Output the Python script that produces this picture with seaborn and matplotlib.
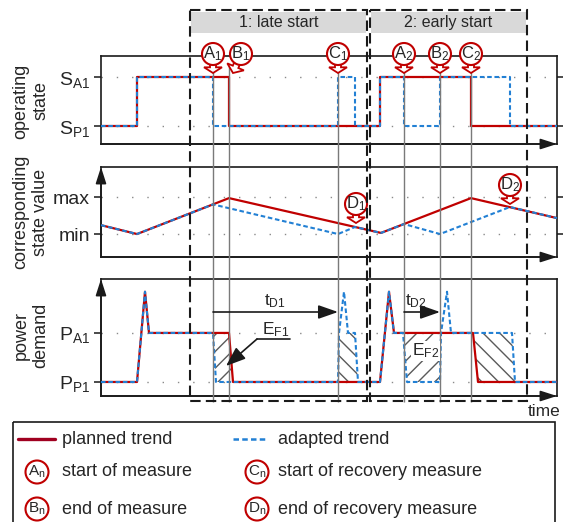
import numpy as np
import pandas as pd
import seaborn as sns
import matplotlib.pyplot as plt
import matplotlib.patches as mpatches
import matplotlib.transforms as mtransforms

sns.set_theme(style='white')
plt.rcParams['font.family'] = ['Liberation Sans', 'DejaVu Sans']
plt.rcParams['mathtext.default'] = 'regular'
plt.rcParams['hatch.linewidth'] = 1.0

RED = '#c00000'
BLUE = '#2280d4'
DASH = (0, (2.2, 1.3))

# time axis in arbitrary units
t_end = 456
event_names = ['A_1', 'B_1', 'C_1', 'A_2', 'B_2', 'C_2']
event_times = [112, 128, 237, 303, 339, 370]
recovery_end_names = ['D_1', 'D_2']
recovery_end_times = [255, 409]
scenario_names = ['1: late start', '2: early start']
scenario_spans = [(89, 266), (269, 426)]

# operating state (0 = S_P1, 1 = S_A1)
state_planned_t = [0, 36, 36, 128, 128, 279, 279, 370, 370, 456]
state_planned = [0, 0, 1, 1, 0, 0, 1, 1, 0, 0]
state_adapted_t = [0, 36, 36, 112, 112, 237, 237, 254, 254, 279, 279, 303, 303, 339, 339, 409, 409, 456]
state_adapted = [0, 0, 1, 1, 0, 0, 1, 1, 0, 0, 1, 1, 0, 0, 1, 1, 0, 0]

# corresponding state value (0 = min, 1 = max)
value_planned_t = [0, 36, 128, 280, 370, 456]
value_planned = [0.24, 0.0, 0.97, 0.03, 0.97, 0.43]
value_adapted_t = [0, 36, 112, 237, 254, 280, 303, 339, 409, 456]
value_adapted = [0.24, 0.0, 0.80, 0.0, 0.19, 0.03, 0.27, 0.0, 0.73, 0.43]

# power demand (0 = P_P1, 1 = P_A1)
power_planned_t = [0, 36, 44, 48, 128, 132, 279, 288, 293, 372, 377, 456]
power_planned = [0, 0, 1.84, 1, 1, 0, 0, 1.84, 1, 1, 0, 0]
power_adapted_t = [0, 36, 44, 48, 112, 115, 237, 238, 243, 247, 254, 257, 279, 288, 293,
                   302, 306, 339, 340, 346, 350, 411, 414, 456]
power_adapted = [0, 0, 1.84, 1, 1, 0, 0, 1, 1.84, 1, 1, 0, 0, 1.84, 1,
                 1, 0, 0, 1, 1.84, 1, 1, 0, 0]

W, H = 563, 522
fig = plt.figure(figsize=(W / 100, H / 100), dpi=100, facecolor='white')


def px_axes(l, t, r, b, **kw):
    return fig.add_axes([l / W, 1 - b / H, (r - l) / W, (b - t) / H], **kw)


ax1 = px_axes(101, 56, 557, 144)
ax2 = px_axes(101, 167, 557, 257)
ax3 = px_axes(101, 279, 557, 396)


def trend_frame(tp, vp, ta, va):
    return pd.concat([pd.DataFrame({'t': tp, 'v': vp, 'trend': 'planned'}),
                      pd.DataFrame({'t': ta, 'v': va, 'trend': 'adapted'})])


def draw_panel(ax, df, ylim, ticklabels, right_ticks, up_arrow):
    for lvl in (0, 1):
        ax.axhline(lvl, color='#8a8a8a', lw=1.0, ls=(0, (1, 10)), zorder=0.5)
    sns.lineplot(data=df[df.trend == 'planned'], x='t', y='v', ax=ax, color=RED, lw=1.6,
                 sort=False, estimator=None, legend=False, zorder=3)
    sns.lineplot(data=df[df.trend == 'adapted'], x='t', y='v', ax=ax, color=BLUE, lw=1.5,
                 linestyle=DASH, sort=False, estimator=None, legend=False, zorder=4)
    ax.set_xlim(0, t_end)
    ax.set_ylim(*ylim)
    ax.set_xlabel('')
    ax.set_ylabel('')
    ax.set_xticks([])
    ax.set_yticks([0, 1])
    ax.set_yticklabels(ticklabels, fontsize=14)
    ax.tick_params(axis='y', direction='out', length=5, width=1.1, color='k',
                   left=True, right=right_ticks, labelright=False, pad=3)
    for sp in ax.spines.values():
        sp.set_visible(True)
        sp.set_color('k')
        sp.set_linewidth(1.2)
    head = '-|>,head_length=1.0,head_width=0.32'
    ax.annotate('', xy=(1, 0), xytext=(0, 0), xycoords='axes fraction',
                arrowprops=dict(arrowstyle=head, color='k', lw=1.2, shrinkA=0, shrinkB=0,
                                mutation_scale=10),
                annotation_clip=False)
    if up_arrow:
        ax.annotate('', xy=(0, 1), xytext=(0, 0), xycoords='axes fraction',
                    arrowprops=dict(arrowstyle=head, color='k', lw=1.2, shrinkA=0, shrinkB=0,
                                    mutation_scale=10),
                    annotation_clip=False)


draw_panel(ax1, trend_frame(state_planned_t, state_planned, state_adapted_t, state_adapted),
           (-0.367, 1.43), ['$S_{P1}$', '$S_{A1}$'], True, False)
draw_panel(ax2, trend_frame(value_planned_t, value_planned, value_adapted_t, value_adapted),
           (-0.62, 1.81), ['min', 'max'], True, True)
draw_panel(ax3, trend_frame(power_planned_t, power_planned, power_adapted_t, power_adapted),
           (-0.286, 2.10), ['$P_{P1}$', '$P_{A1}$'], False, True)

# hatched flexibility areas between the two power trends (clipped to the P_A1 level)
grid = np.linspace(0, t_end, 5000)
p_line = np.clip(np.interp(grid, power_planned_t, power_planned), 0, 1)
a_line = np.clip(np.interp(grid, power_adapted_t, power_adapted), 0, 1)
ax3.fill_between(grid, a_line, p_line, where=p_line > a_line + 1e-6, interpolate=True,
                 facecolor='none', edgecolor='#5a5a5a', linewidth=0, hatch='//', zorder=2)
ax3.fill_between(grid, p_line, a_line, where=a_line > p_line + 1e-6, interpolate=True,
                 facecolor='none', edgecolor='#5a5a5a', linewidth=0, hatch='\\\\', zorder=2)

# overlay in pixel coordinates
ov = px_axes(0, 0, W, H, zorder=5)
ov.set_xlim(0, W)
ov.set_ylim(H, 0)
ov.axis('off')
tb = mtransforms.blended_transform_factory(ax1.transData, ov.transData)


def t2px(t):
    x_disp = ax1.transData.transform((t, 0))[0]
    return ov.transData.inverted().transform((x_disp, 0))[0]


# scenario frames with header
for name, (t0, t1) in zip(scenario_names, scenario_spans):
    ov.add_patch(mpatches.Rectangle((t0 + 1, 12), t1 - t0 - 2, 21, transform=tb,
                                    fc='#d9d9d9', ec='none', zorder=1))
    ov.add_patch(mpatches.Rectangle((t0, 10), t1 - t0, 391, transform=tb, fill=False,
                                    ec='k', lw=1.5, ls=(0, (5, 2.5)), zorder=9))
    ov.text((t0 + t1) / 2, 22.5, name, transform=tb, ha='center', va='center',
            fontsize=11.5, zorder=2)

# event lines
ov.vlines(event_times, 64, 402, transform=tb, colors='#7a7a7a', lw=1.0, zorder=2)


def marker(cx, cy, label, tip=None, r=11, fs=12):
    if tip is not None:
        d = np.array(tip, float) - (cx, cy)
        u = d / np.hypot(*d)
        n = np.array([-u[1], u[0]])
        base = np.array([cx, cy]) + u * (r - 1.5)
        ln = np.hypot(*(np.array(tip, float) - base))
        loc = [(0, -3), (0.4, -3), (0.4, -9), (1, 0), (0.4, 9), (0.4, 3), (0, 3)]
        pts = [base + u * a * ln + n * b for a, b in loc]
        ov.add_patch(mpatches.Polygon(pts, closed=True, fc='white', ec=RED, lw=1.3, zorder=6))
    ov.add_patch(mpatches.Circle((cx, cy), r, fc='white', ec=RED, lw=1.5, zorder=7))
    ov.text(cx, cy, '$' + label + '$', ha='center', va='center', fontsize=fs, zorder=8)


for name, t in zip(event_names, event_times):
    x = t2px(t)
    if name == 'B_1':
        marker(x + 12, 54, name, tip=(x + 4, 73))
    else:
        marker(x, 54, name, tip=(x, 73))
marker(t2px(recovery_end_times[0]), 204, recovery_end_names[0], tip=(t2px(recovery_end_times[0]), 223))
marker(t2px(recovery_end_times[1]), 185, recovery_end_names[1], tip=(t2px(recovery_end_times[1]), 204))

# delay arrows and flexibility labels
arrow_kw = dict(arrowstyle='-|>,head_length=1.2,head_width=0.42', color='k', lw=1.2,
                shrinkA=0, shrinkB=0, mutation_scale=10)
ov.annotate('', xy=(event_times[2], 312), xytext=(event_times[0], 312), xycoords=tb,
            textcoords=tb, arrowprops=arrow_kw)
ov.annotate('', xy=(event_times[4], 312), xytext=(event_times[3], 312), xycoords=tb,
            textcoords=tb, arrowprops=arrow_kw)
ov.text(264, 301, '$t_{D1}$', fontsize=12.5, ha='left', va='center', zorder=8)
ov.text(405, 301, '$t_{D2}$', fontsize=12.5, ha='left', va='center', zorder=8)
ov.plot([257, 290], [339, 339], color='k', lw=1.2, zorder=8)
ov.annotate('', xy=(226, 366), xytext=(257, 339),
            arrowprops=dict(arrowstyle='-|>,head_length=1.2,head_width=0.45', color='k',
                            lw=1.2, shrinkA=0, shrinkB=0, mutation_scale=10))
ov.text(262, 330, '$E_{F1}$', fontsize=12.5, ha='left', va='center', zorder=8)
ov.text(412, 351, '$E_{F2}$', fontsize=12.5, ha='left', va='center', zorder=8,
        bbox=dict(fc='white', ec='none', pad=0.5))
ov.text(528, 411, 'time', fontsize=12.5, ha='left', va='center')

# panel titles
ov.text(31, 101, 'operating\nstate', rotation=90, ha='center', va='center', fontsize=13)
ov.text(31, 212, 'corresponding\nstate value', rotation=90, ha='center', va='center', fontsize=13)
ov.text(31, 335, 'power\ndemand', rotation=90, ha='center', va='center', fontsize=13)

# legend
ov.add_patch(mpatches.Rectangle((13, 422), 542, 130, fill=False, ec='k', lw=1.2, zorder=9))
ov.plot([18, 55], [439, 439], color='#a00020', lw=2.4, zorder=8)
ov.plot([233, 268], [439, 439], color=BLUE, lw=1.8, ls=DASH, zorder=8)
ov.text(62, 439, 'planned trend', fontsize=13, va='center')
ov.text(278, 439, 'adapted trend', fontsize=13, va='center')
legend_rows = [('A_n', 'start of measure', 'C_n', 'start of recovery measure'),
               ('B_n', 'end of measure', 'D_n', 'end of recovery measure')]
for y, (m1, t1, m2, t2) in zip([472, 509], legend_rows):
    marker(37, y, m1, r=11.5, fs=11)
    marker(257, y, m2, r=11.5, fs=11)
    ov.text(62, y, t1, fontsize=13, va='center')
    ov.text(278, y, t2, fontsize=13, va='center')

fig.savefig('out.png', dpi=100, facecolor='white')
